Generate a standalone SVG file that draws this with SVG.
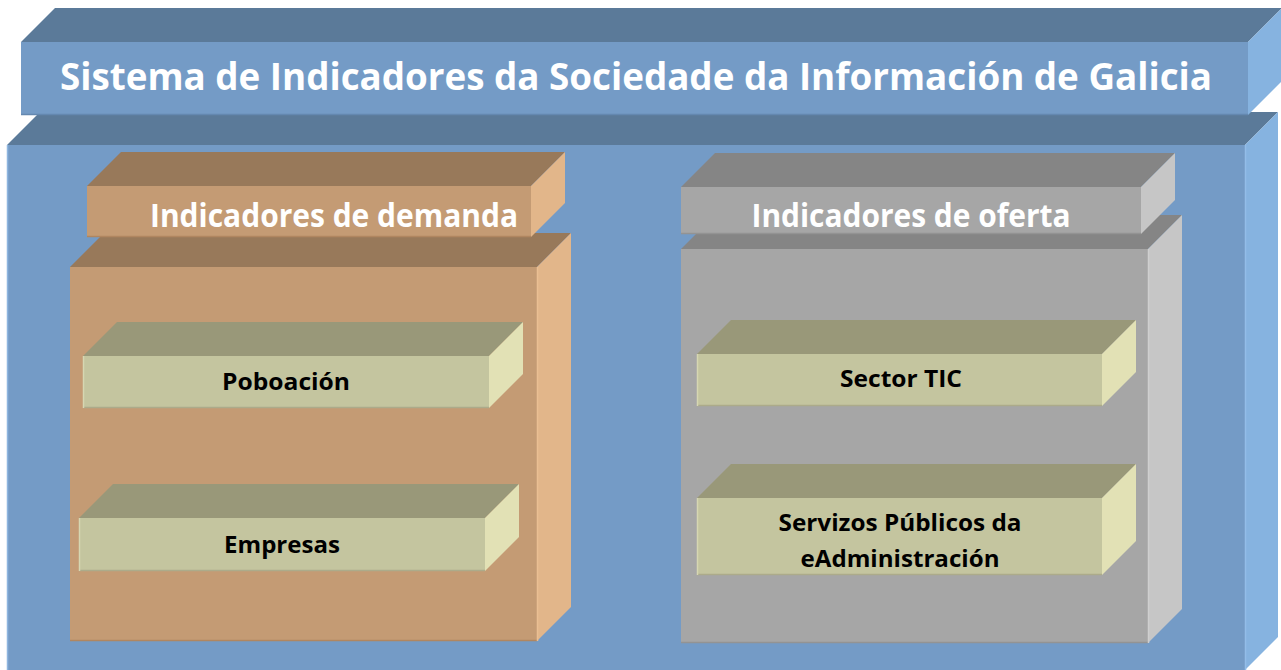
<svg xmlns="http://www.w3.org/2000/svg" width="1281" height="670" viewBox="0 0 1281 670">
<style>
.bf{fill:#749bc6}.bt{fill:#5b7a99}.br{fill:#86b3e0}
.df{fill:#c49b74}.dt{fill:#98795a}.dr{fill:#e2b68a}
.of{fill:#a6a6a6}.ot{fill:#858585}.or{fill:#c6c6c6}
.if{fill:#c4c59f}.it{fill:#999879}.ir{fill:#e2e1b5}
.edge{fill:none;stroke-width:1.5}
.t{font-family:"Open Sans","Liberation Sans",sans-serif;font-weight:bold;text-anchor:middle}
.white{fill:#ffffff}.black{fill:#000000}
</style>
<rect width="1281" height="670" fill="#ffffff"/>

<g id="main-box">
<polygon class="bt" points="7,145 40,112 1278,112 1245,145"/>
<polygon class="br" points="1245,145 1278,112 1278,637 1245,670"/>
<rect class="bf" x="7" y="145" width="1238" height="530"/>
<line x1="7.5" y1="145" x2="7.5" y2="670" stroke="#8fb6e0" stroke-width="1.5"/>
<line x1="1245.5" y1="145" x2="1245.5" y2="670" stroke="#93bde8" stroke-width="1.5"/>
</g>

<g id="title">
<polygon class="bt" points="21,42 55,8 1282,8 1248,42"/>
<polygon class="br" points="1248,42 1282,8 1282,81 1248,115"/>
<rect class="bf" x="21" y="42" width="1227" height="73"/>
<line x1="21" y1="114.5" x2="1248" y2="114.5" stroke="#6488b0" stroke-width="1.5"/>
<text class="t white" x="636" y="90" font-size="38" textLength="1152" lengthAdjust="spacingAndGlyphs">Sistema de Indicadores da Sociedade da Información de Galicia</text>
</g>

<g id="demand-body">
<polygon class="dt" points="70,267 104,233 571,233 537,267"/>
<polygon class="dr" points="537,267 571,233 571,607 537,641"/>
<rect class="df" x="70" y="267" width="467" height="374"/>
<line x1="70" y1="640.5" x2="537" y2="640.5" stroke="#b08660" stroke-width="1.5"/>
<line x1="537.5" y1="267" x2="537.5" y2="641" stroke="#eabf93" stroke-width="1.5"/>
</g>

<g id="demand-header">
<polygon class="dt" points="87,186 121,152 565,152 531,186"/>
<polygon class="dr" points="531,186 565,152 565,203 531,237"/>
<rect class="df" x="87" y="186" width="444" height="51"/>
<line x1="87" y1="236.5" x2="531" y2="236.5" stroke="#b08660" stroke-width="1.5"/>
<text class="t white" x="334" y="227" font-size="32" textLength="368" lengthAdjust="spacingAndGlyphs">Indicadores de demanda</text>
</g>

<g id="poboacion">
<polygon class="it" points="83,356 117,322 523,322 489,356"/>
<polygon class="ir" points="489,356 523,322 523,374 489,408"/>
<rect class="if" x="83" y="356" width="406" height="52"/>
<line x1="83" y1="407.5" x2="489" y2="407.5" stroke="#acab8a" stroke-width="1.5"/>
<line x1="83.5" y1="356" x2="83.5" y2="408" stroke="#d6d7b2" stroke-width="1.5"/>
<text class="t black" x="286" y="390" font-size="23" textLength="128" lengthAdjust="spacingAndGlyphs">Poboación</text>
</g>

<g id="empresas">
<polygon class="it" points="79,518 113,484 519,484 485,518"/>
<polygon class="ir" points="485,518 519,484 519,537 485,571"/>
<rect class="if" x="79" y="518" width="406" height="53"/>
<line x1="79" y1="570.5" x2="485" y2="570.5" stroke="#acab8a" stroke-width="1.5"/>
<line x1="79.5" y1="518" x2="79.5" y2="571" stroke="#d6d7b2" stroke-width="1.5"/>
<text class="t black" x="282" y="553" font-size="23" textLength="116" lengthAdjust="spacingAndGlyphs">Empresas</text>
</g>

<g id="offer-body">
<polygon class="ot" points="681,249 715,215 1182,215 1148,249"/>
<polygon class="or" points="1148,249 1182,215 1182,609 1148,643"/>
<rect class="of" x="681" y="249" width="467" height="394"/>
<line x1="681" y1="642.5" x2="1148" y2="642.5" stroke="#939393" stroke-width="1.5"/>
<line x1="1148.5" y1="249" x2="1148.5" y2="643" stroke="#cfcfcf" stroke-width="1.5"/>
</g>

<g id="offer-header">
<polygon class="ot" points="681,187 715,153 1175,153 1141,187"/>
<polygon class="or" points="1141,187 1175,153 1175,200 1141,234"/>
<rect class="of" x="681" y="187" width="460" height="47"/>
<line x1="681" y1="233.5" x2="1141" y2="233.5" stroke="#939393" stroke-width="1.5"/>
<text class="t white" x="911" y="227" font-size="32" textLength="319" lengthAdjust="spacingAndGlyphs">Indicadores de oferta</text>
</g>

<g id="sector-tic">
<polygon class="it" points="697,354 731,320 1136,320 1102,354"/>
<polygon class="ir" points="1102,354 1136,320 1136,372 1102,406"/>
<rect class="if" x="697" y="354" width="405" height="52"/>
<line x1="697" y1="405.5" x2="1102" y2="405.5" stroke="#acab8a" stroke-width="1.5"/>
<line x1="697.5" y1="354" x2="697.5" y2="406" stroke="#d6d7b2" stroke-width="1.5"/>
<text class="t black" x="901" y="387" font-size="23" textLength="122" lengthAdjust="spacingAndGlyphs">Sector TIC</text>
</g>

<g id="servizos">
<polygon class="it" points="697,498 731,464 1136,464 1102,498"/>
<polygon class="ir" points="1102,498 1136,464 1136,541 1102,575"/>
<rect class="if" x="697" y="498" width="405" height="77"/>
<line x1="697" y1="574.5" x2="1102" y2="574.5" stroke="#acab8a" stroke-width="1.5"/>
<line x1="697.5" y1="498" x2="697.5" y2="575" stroke="#d6d7b2" stroke-width="1.5"/>
<text class="t black" x="900" y="531" font-size="23" textLength="243" lengthAdjust="spacingAndGlyphs">Servizos Públicos da</text>
<text class="t black" x="900" y="567" font-size="23" textLength="199" lengthAdjust="spacingAndGlyphs">eAdministración</text>
</g>

<g id="connectors"/>
</svg>
